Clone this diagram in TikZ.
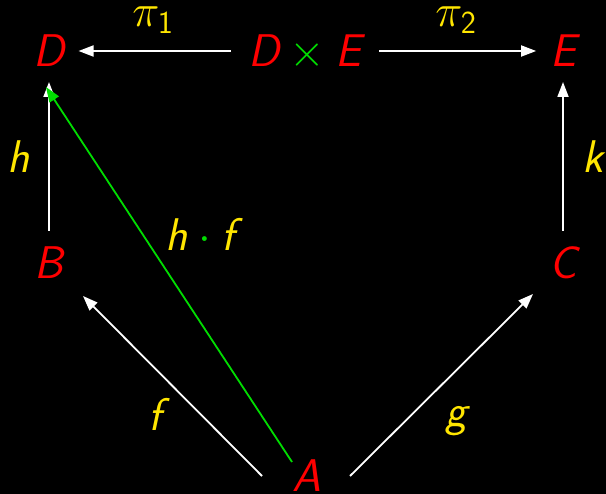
\RequirePackage{fix-cm}
\documentclass[tikz,border=0pt]{standalone}
\usetikzlibrary{arrows.meta}
\definecolor{objred}{HTML}{FF0000}
\definecolor{labyel}{HTML}{FFE600}
\definecolor{compgrn}{HTML}{00DD00}
\newcommand{\bigfont}{\fontsize{46}{50}\selectfont}
\newcommand{\ob}[1]{\mbox{\sffamily\itshape #1}}
\tikzset{
  every node/.style={font=\bigfont,inner sep=0pt,outer sep=0pt},
  obj/.style={text=objred,inner xsep=14bp,inner ysep=15bp,text height=32bp,text depth=0pt,anchor=base},
  lab/.style={text=labyel,anchor=base},
  map/.style={draw=white,line width=1.8bp,-{Triangle[length=15bp,width=11bp]}},
  comp/.style={draw=compgrn,line width=1.8bp,-{Triangle[length=15bp,width=11bp]}}
}
\begin{document}
\begin{tikzpicture}[x=1bp,y=-1bp]

\fill[black] (0,0) rectangle (606,494);
\path[use as bounding box] (0,0) rectangle (606,494);

% objects of the diagram
\node[obj] (d) at (49,67) {$\ob{D}$};
\node[obj,inner xsep=18bp] (dxe) at (305,67) {$\ob{D}\mathbin{\textcolor{compgrn}{\times}}\ob{E}$};
\node[obj] (e) at (563,67) {$\ob{E}$};
\node[obj] (b) at (49,278) {$\ob{B}$};
\node[obj] (c) at (563,278) {$\ob{C}$};
\node[obj] (a) at (307,491) {$\ob{A}$};

% projections and side maps
\draw[map] (dxe.west) -- (d.east);
\draw[map] (dxe.east) -- (e.west);
\draw[map] (b.north) -- (d.south);
\draw[map] (c.north) -- (e.south);
\draw[map] ([xshift=-45bp,yshift=15bp]a.base) -- ([xshift=34bp,yshift=-18bp]b.base);
\draw[map] ([xshift=43bp,yshift=15bp]a.base) -- ([xshift=-30bp,yshift=-16bp]c.base);
% composite
\draw[comp] ([xshift=-15bp,yshift=29bp]a.base) -- ([xshift=-3bp,yshift=-20bp]d.base);

\node[lab] (p1) at (153,27) {$\pi_{\mathsf{1}}$};
\node[lab] (p2) at (456,27) {$\pi_{\mathsf{2}}$};
\node[lab] (lh) at (19,173) {$\ob{h}$};
\node[lab] (lk) at (593,173) {$\ob{k}$};
\node[lab] (lhf) at (200,250) {$\ob{h}\mathbin{\textcolor{compgrn}{\cdot}}\ob{f}$};
\node[lab] (lf) at (155,430) {$\ob{f}$};
\node[lab] (lg) at (456,426) {$\ob{g}$};
\end{tikzpicture}
\end{document}
